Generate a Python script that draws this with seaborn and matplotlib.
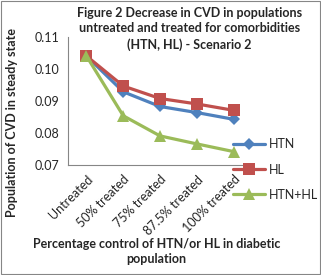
import pandas as pd
import matplotlib.pyplot as plt
import matplotlib.ticker as mticker
import seaborn as sns

# --- données ---
traitements = ['Untreated', '50% treated', '75% treated', '87.5% treated', '100% treated']
htn = [0.1041, 0.0929, 0.0883, 0.0864, 0.0843]
hl = [0.1041, 0.0947, 0.0908, 0.0891, 0.0871]
htn_hl = [0.1041, 0.0854, 0.0791, 0.0766, 0.0742]
series = ['HTN', 'HL', 'HTN+HL']


def main():
    df = pd.DataFrame({
        'Traitement': traitements * 3,
        'CVD': htn + hl + htn_hl,
        'Groupe': [s for s in series for _ in traitements],
    })

    sns.set_style('white')
    plt.rcParams['font.family'] = ['Lato', 'DejaVu Sans']

    fig = plt.figure(figsize=(3.21, 2.75), dpi=100)
    ax = fig.add_axes([0.212, 0.40, 0.573, 0.465])

    couleurs = {'HTN': '#4F81BD', 'HL': '#C0504D', 'HTN+HL': '#9BBB59'}
    marqueurs = {'HTN': 'D', 'HL': 's', 'HTN+HL': '^'}
    tailles = {'HTN': 6, 'HL': 8, 'HTN+HL': 8}

    for s in series:
        sub = df[df['Groupe'] == s]
        sns.lineplot(data=sub, x='Traitement', y='CVD', ax=ax, color=couleurs[s],
                     marker=marqueurs[s], markersize=tailles[s], markeredgewidth=0,
                     linewidth=2.3, label=s, sort=False)

    ax.set_xlim(-0.5, 4.5)
    ax.set_ylim(0.07, 0.11)
    ax.yaxis.set_major_locator(mticker.MultipleLocator(0.01))
    ax.yaxis.set_major_formatter(mticker.FormatStrFormatter('%.2f'))
    ax.set_xticks(range(len(traitements)))
    ax.set_xticklabels(traitements, rotation=45, ha='right', rotation_mode='anchor', fontsize=9)
    ax.set_xticks([i - 0.5 for i in range(len(traitements) + 1)], minor=True)
    ax.tick_params(axis='x', which='major', length=0, pad=6)
    ax.tick_params(axis='x', which='minor', length=4, color='#868686', direction='out')
    ax.tick_params(axis='y', length=4, color='#868686', direction='out', labelsize=9, pad=2)

    for side in ['top', 'right']:
        ax.spines[side].set_visible(False)
    for side in ['left', 'bottom']:
        ax.spines[side].set_color('#868686')
        ax.spines[side].set_linewidth(0.8)

    ax.set_xlabel('Percentage control of HTN/or HL in diabetic\npopulation',
                  fontsize=9, fontweight='bold', linespacing=1.3)
    ax.xaxis.set_label_coords(0.48, -0.57)
    ax.set_ylabel('Population of CVD in steady state', fontsize=9, fontweight='bold')
    ax.yaxis.set_label_coords(-0.27, 0.33)

    ax.get_legend().remove()
    handles, labels = ax.get_legend_handles_labels()
    fig.legend(handles, labels, loc='upper left', bbox_to_anchor=(0.71, 0.515),
               frameon=False, fontsize=9, handlelength=2.6, labelspacing=1.05,
               handletextpad=0.3, borderaxespad=0)

    fig.text(0.59, 0.975, 'Figure 2 Decrease in CVD in populations\nuntreated and treated for comorbidities\n(HTN, HL) - Scenario 2',
             ha='center', va='top', fontsize=9, fontweight='bold', linespacing=1.35)

    fig.patches.append(plt.Rectangle((0.003, 0.004), 0.994, 0.992, transform=fig.transFigure,
                                     fill=False, edgecolor='#868686', linewidth=0.8))

    fig.savefig('out.png', dpi=100)


if __name__ == '__main__':
    main()
